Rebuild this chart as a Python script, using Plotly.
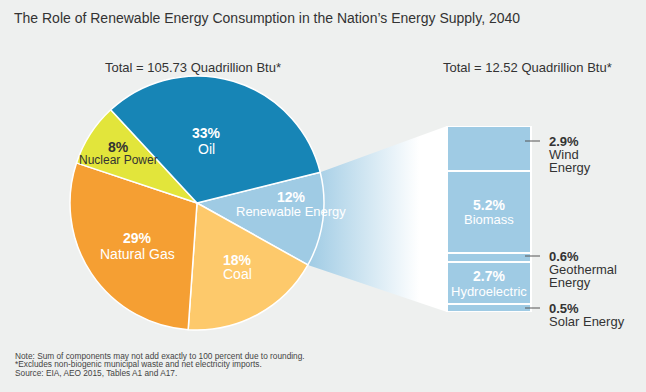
import math
import plotly.graph_objects as go

# ---------------- data ----------------
pie_labels = ["Renewable Energy", "Coal", "Natural Gas", "Nuclear Power", "Oil"]
pie_values = [12, 18, 29, 8, 33]
pie_colors = ["#9fcbe4", "#fdc96b", "#f59f33", "#e2e53b", "#1785b6"]

bar_labels = ["Solar Energy", "Hydroelectric", "Geothermal Energy", "Biomass", "Wind Energy"]
bar_values = [0.5, 2.7, 0.6, 5.2, 2.9]

title_text = "The Role of Renewable Energy Consumption in the Nation\u2019s Energy Supply, 2040"
left_total = "Total = 105.73 Quadrillion Btu*"
right_total = "Total = 12.52 Quadrillion Btu*"
notes = [
    "Note: Sum of components may not add exactly to 100 percent due to rounding.",
    "*Excludes non-biogenic municipal waste and net electricity imports.",
    "Source: EIA, AEO 2015, Tables A1 and A17.",
]

# ---------------- layout geometry ----------------
W, H = 646, 392
FONT = "Liberation Sans, Arial, sans-serif"
BG = "#eef0ef"
DARK = "#333333"
BAR_COLOR = "#9fcbe4"

pie_dom_x = [70 / W, 324 / W]
pie_dom_y = [(H - 330) / H, (H - 76) / H]
rotation = 76

bar_dom_x = [445 / W, 533 / W]
bar_dom_y = [(H - 312) / H, (H - 126) / H]
bar_width = 84 / 88

fig = go.Figure()

# wedge connecting renewable slice with the stacked bar (geometry derived from the data)
cx = (pie_dom_x[0] + pie_dom_x[1]) / 2 * W
cy = H - (pie_dom_y[0] + pie_dom_y[1]) / 2 * H
R = min((pie_dom_x[1] - pie_dom_x[0]) * W, (pie_dom_y[1] - pie_dom_y[0]) * H) / 2
total = sum(pie_values)
a0 = math.radians(rotation)
a1 = math.radians(rotation + 360 * pie_values[0] / total)
p0 = (cx + R * math.sin(a0), cy - R * math.cos(a0))
p1 = (cx + R * math.sin(a1), cy - R * math.cos(a1))
bar_left = bar_dom_x[0] * W + (1 - bar_width) / 2 * (bar_dom_x[1] - bar_dom_x[0]) * W
bar_top = H - bar_dom_y[1] * H
bar_bot = H - bar_dom_y[0] * H

fig.add_trace(go.Scatter(
    x=[p0[0], bar_left, bar_left, p1[0], p0[0]],
    y=[p0[1], bar_top, bar_bot, p1[1], p0[1]],
    mode="lines", line=dict(width=0), fill="toself",
    fillgradient=dict(type="horizontal",
                      colorscale=[[0, "#9fcbe4"], [0.8, "#ffffff"], [1, "#ffffff"]]),
    hoverinfo="skip", showlegend=False, xaxis="x", yaxis="y",
))

# stacked bar
for lab, val in zip(bar_labels, bar_values):
    fig.add_trace(go.Bar(
        x=[0], y=[val], name=lab, width=bar_width,
        marker=dict(color=BAR_COLOR, line=dict(color="white", width=2)),
        xaxis="x2", yaxis="y2", showlegend=False, hoverinfo="skip",
    ))

# pie
fig.add_trace(go.Pie(
    labels=pie_labels, values=pie_values, sort=False, direction="clockwise",
    rotation=rotation, marker=dict(colors=pie_colors, line=dict(color="white", width=1.5)),
    textinfo="none", hoverinfo="skip", showlegend=False,
    domain=dict(x=pie_dom_x, y=pie_dom_y),
))

ann = []

def txt(x, y, s, size=13, color=DARK, anchor="center", bold=False):
    ann.append(dict(
        x=x, y=y, xref="x", yref="y", text=f"<b>{s}</b>" if bold else s,
        showarrow=False, xanchor=anchor, yanchor="middle", borderpad=0,
        font=dict(family=FONT, size=size, color=color),
    ))

# title, headers
txt(13, 18, title_text, size=14, color=DARK, anchor="left")
txt(193, 67, left_total, size=13)
txt(527, 67, right_total, size=13)

# pie labels
pie_text_pos = {
    "Oil": (206, 133, 149, "white", 14, 14),
    "Nuclear Power": (118, 147, 160, DARK, 14, 12),
    "Renewable Energy": (291, 197, 211, "white", 14, 13),
    "Natural Gas": (137, 238, 254, "white", 14, 14),
    "Coal": (237, 260, 274, "white", 14, 14),
}
for lab, val in zip(pie_labels, pie_values):
    x, y1, y2, col, s1, s2 = pie_text_pos[lab]
    txt(x, y1, f"{val}%", size=s1, color=col, bold=True)
    txt(x, y2, lab, size=s2, color=col)

# bar inside labels
inside = {"Biomass": (205, 219), "Hydroelectric": (276, 291)}
for lab, val in zip(bar_labels, bar_values):
    if lab in inside:
        y1, y2 = inside[lab]
        txt(489, y1, f"{val}%", size=14, color="white", bold=True)
        txt(489, y2, lab, size=13, color="white")

# bar outside labels with leader lines
outside = {
    "Wind Energy": (141, ["Wind", "Energy"]),
    "Geothermal Energy": (256, ["Geothermal", "Energy"]),
    "Solar Energy": (308, ["Solar Energy"]),
}
shapes = []
for lab, val in zip(bar_labels, bar_values):
    if lab in outside:
        y0, lines = outside[lab]
        txt(548, y0, f"{val}%", size=13, color=DARK, anchor="left", bold=True)
        for i, ln in enumerate(lines):
            txt(548, y0 + 13 * (i + 1), ln, size=13, color=DARK, anchor="left")
        shapes.append(dict(type="line", xref="x", yref="y", x0=525, x1=540, y0=y0, y1=y0,
                           line=dict(color="#555555", width=1)))

# notes
for i, n in enumerate(notes):
    txt(14, 356 + 8.3 * i, n, size=8.3, color="#444444", anchor="left")

fig.update_layout(
    width=W, height=H, autosize=False,
    margin=dict(l=0, r=0, t=0, b=0),
    paper_bgcolor=BG, plot_bgcolor="rgba(0,0,0,0)",
    barmode="stack", bargap=0,
    annotations=ann, shapes=shapes,
    xaxis=dict(domain=[0, 1], range=[0, W], visible=False, fixedrange=True),
    yaxis=dict(domain=[0, 1], range=[H, 0], visible=False, fixedrange=True),
    xaxis2=dict(domain=bar_dom_x, range=[-0.5, 0.5], visible=False, anchor="y2"),
    yaxis2=dict(domain=bar_dom_y, range=[0, sum(bar_values)], visible=False, anchor="x2"),
)

fig.write_html(
    "out.html",
    config={"displayModeBar": False},
    post_script="document.body.style.margin='0';document.body.style.background='#eef0ef';",
)
